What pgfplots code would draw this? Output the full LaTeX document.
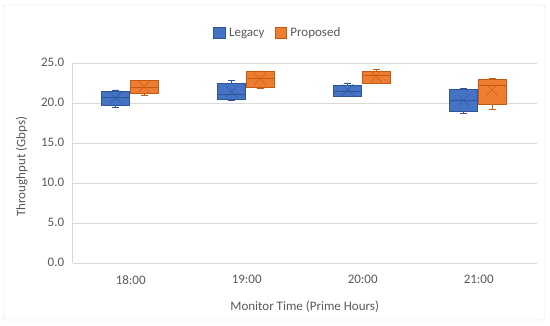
\documentclass[border=0pt]{standalone}
\usepackage{fontspec}
\setmainfont{Carlito}
\usepackage{pgfplots}
\pgfplotsset{compat=1.18}
\usepgfplotslibrary{statistics}
\definecolor{legacy}{HTML}{4472C4}
\definecolor{legacyD}{HTML}{2F5597}
\definecolor{prop}{HTML}{ED7D31}
\definecolor{propD}{HTML}{C55A11}
\definecolor{txt}{HTML}{595959}
\definecolor{gridc}{HTML}{D9D9D9}
\begin{document}
\begin{tikzpicture}
\useasboundingbox (0pt,0pt) rectangle (550pt,325pt);
\draw[gridc, rounded corners=2pt] (4pt,5pt) rectangle (545pt,320pt);
\begin{axis}[
  at={(72.7pt,62.3pt)}, anchor=south west,
  scale only axis, width=464pt, height=200pt,
  xmin=-0.5, xmax=3.5, ymin=0, ymax=25,
  ytick={0,5,10,15,20,25},
  xtick={0,1,2,3}, xticklabels={18:00,19:00,20:00,21:00},
  axis lines*=left,
  x axis line style={-, draw=gridc},
  y axis line style={-, draw=gridc},
  ymajorgrids, grid style={draw=gridc},
  major tick length=0pt,
  tick style={draw=none},
  font=\fontsize{13}{15}\selectfont,
  ticklabel style={text=txt, font=\fontsize{13}{15}\selectfont},
  xticklabel style={yshift=-9pt},
  yticklabel style={xshift=-5pt},
  /pgf/number format/.cd, fixed, fixed zerofill, precision=1, assume math mode=true,
  /pgfplots/.cd,
  xlabel={Monitor Time (Prime Hours)},
  ylabel={Throughput (Gbps)},
  xlabel style={at={(axis description cs:0.5,-0.22)}, anchor=center, text=txt},
  ylabel style={at={(axis description cs:-0.11,0.48)}, anchor=center, text=txt},
  legend style={at={(axis description cs:0.442,1.15)}, anchor=center, draw=none, fill=none,
    text=txt, font=\fontsize{13}{15}\selectfont,
    /tikz/every even column/.append style={column sep=8pt},
    /tikz/every odd column/.append style={column sep=2pt}},
  legend columns=2,
  boxplot/draw direction=y,
]
\addlegendimage{legend image code/.code={\filldraw[fill=legacy,draw=legacyD] (0pt,-5.75pt) rectangle (11.5pt,5.75pt);}}
\addlegendentry{Legacy}
\addlegendimage{legend image code/.code={\filldraw[fill=prop,draw=propD] (0pt,-5.75pt) rectangle (11.5pt,5.75pt);}}
\addlegendentry{Proposed}

% Legacy
\addplot+[boxplot prepared={draw position=-0.13, box extend=0.24, whisker extend=0.06,
  lower whisker=19.4, lower quartile=19.7, median=20.7, upper quartile=21.4, upper whisker=21.6},
  fill=legacy, draw=legacyD, mark=none, solid, forget plot] table[row sep=\\, y index=0] {y\\20.7\\};
\addplot+[boxplot prepared={draw position=0.87, box extend=0.24, whisker extend=0.06,
  lower whisker=20.3, lower quartile=20.5, median=21.1, upper quartile=22.4, upper whisker=22.8},
  fill=legacy, draw=legacyD, mark=none, solid, forget plot] table[row sep=\\, y index=0] {y\\21.1\\};
\addplot+[boxplot prepared={draw position=1.87, box extend=0.24, whisker extend=0.06,
  lower whisker=20.8, lower quartile=20.8, median=21.4, upper quartile=22.2, upper whisker=22.5},
  fill=legacy, draw=legacyD, mark=none, solid, forget plot] table[row sep=\\, y index=0] {y\\21.4\\};
\addplot+[boxplot prepared={draw position=2.87, box extend=0.24, whisker extend=0.06,
  lower whisker=18.7, lower quartile=19.0, median=20.3, upper quartile=21.7, upper whisker=21.8},
  fill=legacy, draw=legacyD, mark=none, solid, forget plot] table[row sep=\\, y index=0] {y\\20.3\\};
% Proposed
\addplot+[boxplot prepared={draw position=0.115, box extend=0.24, whisker extend=0.06,
  lower whisker=21.0, lower quartile=21.2, median=22.0, upper quartile=22.8, upper whisker=22.8},
  fill=prop, draw=propD, mark=none, solid, forget plot] table[row sep=\\, y index=0] {y\\22.0\\};
\addplot+[boxplot prepared={draw position=1.115, box extend=0.24, whisker extend=0.06,
  lower whisker=21.8, lower quartile=22.0, median=23.05, upper quartile=23.9, upper whisker=24.0},
  fill=prop, draw=propD, mark=none, solid, forget plot] table[row sep=\\, y index=0] {y\\23.05\\};
\addplot+[boxplot prepared={draw position=2.115, box extend=0.24, whisker extend=0.06,
  lower whisker=22.4, lower quartile=22.4, median=23.4, upper quartile=24.0, upper whisker=24.2},
  fill=prop, draw=propD, mark=none, solid, forget plot] table[row sep=\\, y index=0] {y\\23.4\\};
\addplot+[boxplot prepared={draw position=3.115, box extend=0.24, whisker extend=0.06,
  lower whisker=19.2, lower quartile=19.8, median=22.2, upper quartile=23.0, upper whisker=23.05},
  fill=prop, draw=propD, mark=none, solid, forget plot] table[row sep=\\, y index=0] {y\\22.2\\};
% means
\addplot[only marks, mark=x, mark size=8pt, legacyD, forget plot] coordinates {(-0.13,20.6) (0.87,21.4) (1.87,21.6) (2.87,20.3)};
\addplot[only marks, mark=x, mark size=8pt, propD, forget plot] coordinates {(0.115,22.0) (1.115,23.0) (2.115,23.3) (3.115,21.6)};
\end{axis}
\end{tikzpicture}
\end{document}
